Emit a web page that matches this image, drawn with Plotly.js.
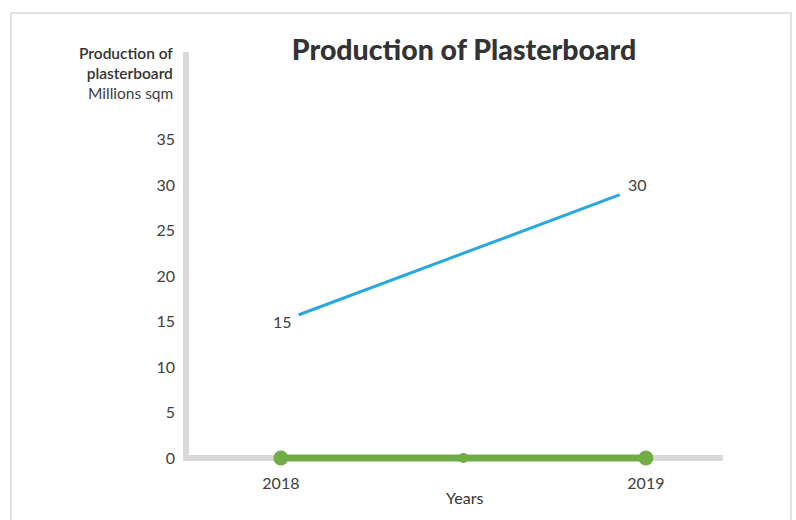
<!DOCTYPE html>
<html>
<head>
<meta charset="utf-8">
<script src="https://cdn.plot.ly/plotly-3.0.1.min.js"></script>
<style>html,body{margin:0;padding:0;background:#fff;}#chart{width:796px;height:520px;}</style>
</head>
<body>
<div id="chart"></div>
<script>
// Data
const years = [2018, 2019];
const production = [15, 30];
const baselineX = [2018, 2018.5, 2019];
const baselineY = [0, 0, 0];
const yTicks = [0, 5, 10, 15, 20, 25, 30, 35];
const xTicks = [2018, 2019];
const xTickText = ['2018', '2019'];

const L = 186, R = 720, T = 52, B = 462;
const W = R - L, H = B - T;
const px = v => (v - L) / W;
const py = v => (B - v) / H;

const FONT = 'Lato, "Open Sans", sans-serif';
const TXT = '#404040';
const GRAY = '#d9d9d9';

const traces = [
  {
    x: years, y: production, type: 'scatter', mode: 'lines+markers',
    line: {color: '#29a8e0', width: 3},
    marker: {color: '#ffffff', size: [38, 56], opacity: 1, line: {width: 0}},
    cliponaxis: false, hoverinfo: 'skip', showlegend: false
  },
  {
    x: baselineX, y: baselineY, type: 'scatter', mode: 'lines+markers',
    line: {color: '#70ad47', width: 7},
    marker: {color: '#70ad47', size: [15, 10, 15], opacity: 1, line: {width: 0}},
    cliponaxis: false, hoverinfo: 'skip', showlegend: false
  }
];

const labelShift = [2, -8];
const valueLabels = years.map((yr, i) => ({
  x: yr, y: production[i], xref: 'x', yref: 'y', text: String(production[i]),
  showarrow: false, xanchor: 'center', yanchor: 'middle', xshift: labelShift[i],
  font: {family: FONT, size: 16, color: TXT, weight: 400}
}));

const layout = {
  width: 796, height: 520,
  margin: {l: L, r: 796 - R, t: T, b: 520 - B, pad: 0},
  paper_bgcolor: '#ffffff', plot_bgcolor: '#ffffff',
  font: {family: FONT, color: TXT, size: 16},
  showlegend: false,
  title: {
    text: 'Production of Plasterboard',
    font: {family: FONT, size: 28.5, color: '#333333', weight: 900},
    x: px(464), xref: 'paper', xanchor: 'center',
    y: 1 - 50 / 520, yref: 'container', yanchor: 'middle'
  },
  xaxis: {
    range: [2017.74, 2019.203],
    tickvals: xTicks, ticktext: xTickText,
    showgrid: false, zeroline: false, showline: false, ticks: '',
    ticklabelstandoff: 10,
    tickfont: {family: FONT, size: 16, color: TXT, weight: 400}
  },
  yaxis: {
    range: [-0.44, 44.61],
    tickvals: yTicks,
    showgrid: false, zeroline: false, showline: false, ticks: '',
    ticklabelstandoff: 10,
    tickfont: {family: FONT, size: 16, color: TXT, weight: 400}
  },
  shapes: [
    {type: 'rect', xref: 'paper', yref: 'paper', x0: px(11), x1: px(791), y0: py(540), y1: py(13),
     line: {color: GRAY, width: 1.5}, fillcolor: 'rgba(0,0,0,0)', layer: 'below'},
    {type: 'line', xref: 'paper', yref: 'paper', x0: px(186), x1: px(186), y0: py(461), y1: py(52),
     line: {color: GRAY, width: 6}, layer: 'below'},
    {type: 'line', xref: 'paper', yref: 'paper', x0: px(183), x1: px(723), y0: py(458), y1: py(458),
     line: {color: GRAY, width: 6}, layer: 'below'}
  ],
  annotations: valueLabels.concat([
    {text: 'Production of<br>plasterboard', xref: 'paper', yref: 'paper',
     x: px(175), y: py(62.5), xanchor: 'right', yanchor: 'middle', align: 'right',
     showarrow: false, font: {family: FONT, size: 15.5, color: '#333333', weight: 600}},
    {text: 'Millions sqm', xref: 'paper', yref: 'paper',
     x: px(175), y: py(93), xanchor: 'right', yanchor: 'middle', align: 'right',
     showarrow: false, font: {family: FONT, size: 15.5, color: TXT, weight: 400}},
    {text: 'Years', xref: 'paper', yref: 'paper',
     x: px(464), y: py(497), xanchor: 'center', yanchor: 'middle',
     showarrow: false, font: {family: FONT, size: 16, color: '#333333'}}
  ])
};

Plotly.newPlot('chart', traces, layout, {displayModeBar: false, staticPlot: true});
</script>
</body>
</html>
